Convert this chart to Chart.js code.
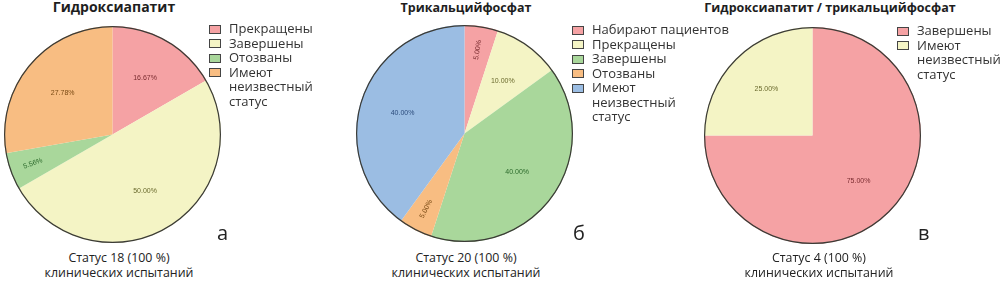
<!DOCTYPE html>
<html>
<head>
<meta charset="utf-8">
<script src="https://cdn.jsdelivr.net/npm/chart.js@4.4.1/dist/chart.umd.min.js"></script>
<style>
    body { margin: 0; background: #fff; width: 1004px; height: 281px; position: relative; overflow: hidden; font-family: "Open Sans", "Noto Sans", sans-serif; color: #2b2b2b; }
    .abs { position: absolute; white-space: nowrap; }
    .title { font-weight: 700; font-size: 12.5px; transform: translateX(-50%); line-height: 16px; color: #1e1e1e; }
    .caption { font-size: 12.4px; line-height: 15px; text-align: center; transform: translateX(-50%); color: #222; }
    .letter { font-size: 20px; line-height: 20px; color: #222; }
    .legend { font-size: 13px; line-height: 14.5px; color: #333; }
    .legend .row { position: relative; padding-left: 20px; }
    .legend .box { position: absolute; left: 0; top: 3.5px; width: 10px; height: 7px; border: 1px solid #444; }
</style>
</head>
<body>
<script>
    // данные: количество клинических испытаний по статусам
    var HA_LABELS = ["Прекращены", "Завершены", "Отозваны", "Имеют\nнеизвестный\nстатус"];
    var HA_VALUES = [3, 9, 1, 5];

    var TCP_LABELS = ["Набирают пациентов", "Прекращены", "Завершены", "Отозваны", "Имеют\nнеизвестный\nстатус"];
    var TCP_VALUES = [1, 2, 8, 1, 8];

    var MIX_LABELS = ["Завершены", "Имеют\nнеизвестный\nстатус"];
    var MIX_VALUES = [3, 1];

    var TITLES = ["Гидроксиапатит", "Трикальцийфосфат", "Гидроксиапатит / трикальцийфосфат"];
    var CAPTIONS = ["Статус 18 (100 %)\nклинических испытаний", "Статус 20 (100 %)\nклинических испытаний", "Статус 4 (100 %)\nклинических испытаний"];
    var LETTERS = ["а", "б", "в"];

    var FILL = ["#f5a2a4", "#f4f4c5", "#a9d79b", "#f8bd82", "#9bbde3"];
    var INK = ["#7a2c30", "#6a6a2e", "#2c6a2c", "#7a4a14", "#2c4c7c"];

    // раскладка панелей (пиксели)
    var LAYOUT = [
        { pie: [4, 26, 217], title: [114, -1, 14], legend: [209, 21], caption: [119, 250], letter: [217, 223] },
        { pie: [356, 25, 217], title: [466, 0, 12.5], legend: [572, 22], caption: [466, 250], letter: [573, 223] },
        { pie: [704, 27, 217], title: [830, 0, 12.5], legend: [897, 23], caption: [819, 250], letter: [918, 223] }
    ];

    var outlinePlugin = {
        id: "outline",
        afterDatasetsDraw: function (chart) {
            var arc = chart.getDatasetMeta(0).data[0];
            var ctx = chart.ctx;
            ctx.save();
            ctx.beginPath();
            ctx.arc(arc.x, arc.y, arc.outerRadius - 0.6, 0, Math.PI * 2);
            ctx.strokeStyle = "#3b3b36";
            ctx.lineWidth = 1.2;
            ctx.stroke();
            ctx.restore();
        }
    };

    var pctPlugin = {
        id: "pct",
        afterDatasetsDraw: function (chart) {
            var ds = chart.data.datasets[0];
            var total = ds.data.reduce(function (a, b) { return a + b; }, 0);
            var ctx = chart.ctx;
            chart.getDatasetMeta(0).data.forEach(function (arc, i) {
                var share = ds.data[i] / total;
                var mid = (arc.startAngle + arc.endAngle) / 2;
                var small = share < 0.06;
                var f = small ? 0.78 : 0.6;
                var x = arc.x + Math.cos(mid) * arc.outerRadius * f;
                var y = arc.y + Math.sin(mid) * arc.outerRadius * f;
                var rot = 0;
                if (small) {
                    rot = mid;
                    while (rot > Math.PI / 2) rot -= Math.PI;
                    while (rot <= -Math.PI / 2) rot += Math.PI;
                }
                ctx.save();
                ctx.translate(x, y);
                ctx.rotate(rot);
                ctx.font = "7px 'Liberation Sans', sans-serif";
                ctx.fillStyle = INK[i];
                ctx.textAlign = "center";
                ctx.textBaseline = "middle";
                ctx.fillText((share * 100).toFixed(2) + "%", 0, 0);
                ctx.restore();
            });
        }
    };

    function addText(cls, x, y, text) {
        var el = document.createElement("div");
        el.className = "abs " + cls;
        el.style.left = x + "px";
        el.style.top = y + "px";
        el.innerHTML = text.split("\n").join("<br>");
        document.body.appendChild(el);
        return el;
    }

    function addLegend(x, y, labels) {
        var el = document.createElement("div");
        el.className = "abs legend";
        el.style.left = x + "px";
        el.style.top = y + "px";
        labels.forEach(function (label, i) {
            var row = document.createElement("div");
            row.className = "row";
            row.innerHTML = '<span class="box" style="background:' + FILL[i] + '"></span>' + label.split("\n").join("<br>");
            el.appendChild(row);
        });
        document.body.appendChild(el);
    }

    function renderPanel(idx, labels, values) {
        var lay = LAYOUT[idx];
        var canvas = document.createElement("canvas");
        canvas.width = lay.pie[2];
        canvas.height = lay.pie[2];
        canvas.style.position = "absolute";
        canvas.style.left = lay.pie[0] + "px";
        canvas.style.top = lay.pie[1] + "px";
        document.body.appendChild(canvas);

        new Chart(canvas.getContext("2d"), {
            type: "pie",
            data: {
                labels: labels,
                datasets: [{
                    data: values,
                    backgroundColor: FILL.slice(0, values.length),
                    borderWidth: 0
                }]
            },
            options: {
                responsive: false,
                animation: false,
                layout: { padding: 0 },
                plugins: {
                    legend: { display: false },
                    tooltip: { enabled: false }
                }
            },
            plugins: [outlinePlugin, pctPlugin]
        });

        addText("title", lay.title[0], lay.title[1], TITLES[idx]).style.fontSize = lay.title[2] + "px";
        addLegend(lay.legend[0], lay.legend[1], labels);
        addText("caption", lay.caption[0], lay.caption[1], CAPTIONS[idx]);
        addText("letter", lay.letter[0], lay.letter[1], LETTERS[idx]);
    }

    renderPanel(0, HA_LABELS, HA_VALUES);
    renderPanel(1, TCP_LABELS, TCP_VALUES);
    renderPanel(2, MIX_LABELS, MIX_VALUES);
</script>
</body>
</html>
